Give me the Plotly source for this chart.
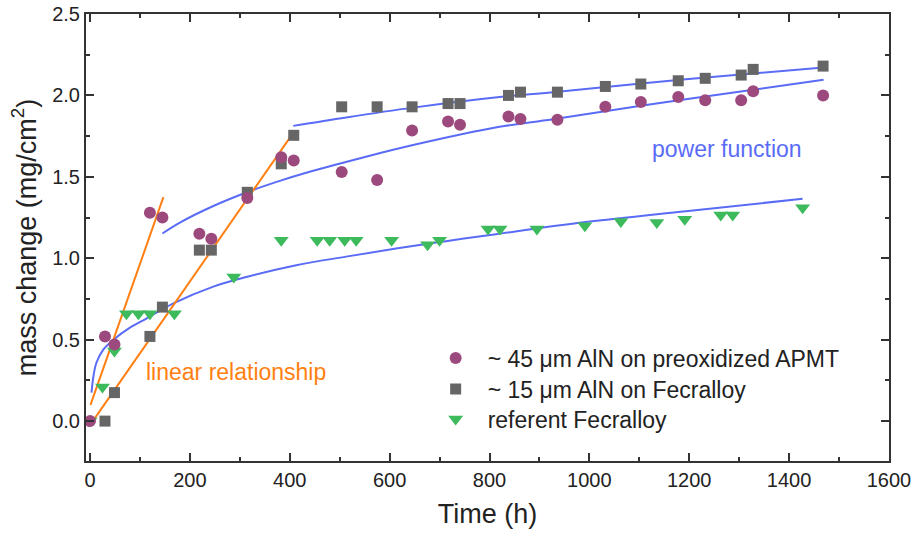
import plotly.graph_objects as go

# ---------------- data ----------------
apmt_t = [0, 30, 49, 120, 145, 219, 243, 315, 383, 408, 504, 575, 645, 717, 741,
          838, 862, 936, 1032, 1103, 1178, 1232, 1304, 1328, 1468]
apmt_m = [0.0, 0.52, 0.47, 1.28, 1.25, 1.15, 1.12, 1.37, 1.62, 1.60, 1.53, 1.48, 1.785, 1.84, 1.82,
          1.87, 1.855, 1.85, 1.93, 1.96, 1.99, 1.97, 1.97, 2.025, 2.00]

fecr_t = [30, 49, 120, 145, 219, 243, 315, 383, 408, 504, 575, 645, 717, 741,
          838, 862, 936, 1032, 1103, 1178, 1232, 1304, 1328, 1468]
fecr_m = [0.0, 0.175, 0.52, 0.70, 1.05, 1.05, 1.405, 1.58, 1.755, 1.93, 1.93, 1.93, 1.95, 1.95,
          2.00, 2.02, 2.02, 2.055, 2.07, 2.09, 2.105, 2.125, 2.16, 2.18]

ref_t = [0, 25, 49, 73, 97, 120, 169, 288, 383, 455, 480, 510, 533, 604, 676, 700,
         797, 821, 895, 991, 1063, 1135, 1191, 1263, 1287, 1427]
ref_m = [0.0, 0.21, 0.43, 0.66, 0.66, 0.66, 0.66, 0.885, 1.11, 1.11, 1.11, 1.11, 1.11, 1.11, 1.083, 1.11,
         1.18, 1.18, 1.18, 1.20, 1.225, 1.22, 1.24, 1.265, 1.265, 1.31]

# power-function fits
fit_ref_t = [3, 7, 13, 27, 47, 80, 113, 167, 247, 313, 413, 513, 613, 713, 813, 993, 1193, 1427]
fit_ref_m = [0.175, 0.277, 0.36, 0.44, 0.50, 0.574, 0.63, 0.723, 0.826, 0.885, 0.957, 1.01, 1.06,
             1.105, 1.148, 1.222, 1.289, 1.365]

fit_apmt_t = [145, 180, 247, 313, 380, 447, 547, 647, 820, 927, 1193, 1469]
fit_apmt_m = [1.152, 1.219, 1.321, 1.404, 1.475, 1.537, 1.619, 1.695, 1.807, 1.854, 1.977, 2.096]

fit_fecr_t = [407, 513, 647, 820, 927, 1193, 1469]
fit_fecr_m = [1.813, 1.865, 1.925, 1.99, 2.02, 2.10, 2.172]

# linear fits
lin1_t = [1, 147]
lin1_m = [0.10, 1.375]
lin2_t = [0, 408]
lin2_m = [-0.025, 1.775]

x_ticks = [0, 200, 400, 600, 800, 1000, 1200, 1400, 1600]
y_ticks = [0.0, 0.5, 1.0, 1.5, 2.0, 2.5]

# ---------------- styles ----------------
PURPLE = "#9C4A7E"
GRAY = "#666666"
GREEN = "#3DBA5C"
BLUE = "#5A6CF6"
ORANGE = "#FF7F12"
FONT = "Liberation Sans, Arial, sans-serif"

fig = go.Figure()

for tx, my in [(fit_ref_t, fit_ref_m), (fit_apmt_t, fit_apmt_m), (fit_fecr_t, fit_fecr_m)]:
    fig.add_trace(go.Scatter(x=tx, y=my, mode="lines", line=dict(color=BLUE, width=2, shape="spline"),
                             showlegend=False, hoverinfo="skip"))
for tx, my in [(lin1_t, lin1_m), (lin2_t, lin2_m)]:
    fig.add_trace(go.Scatter(x=tx, y=my, mode="lines", line=dict(color=ORANGE, width=2),
                             showlegend=False, hoverinfo="skip"))

fig.add_trace(go.Scatter(x=ref_t, y=ref_m, mode="markers", name="referent Fecralloy",
                         marker=dict(symbol="triangle-down", size=13, color=GREEN), legend="legend3"))
fig.add_trace(go.Scatter(x=fecr_t, y=fecr_m, mode="markers", name="~ 15 μm AlN on Fecralloy",
                         marker=dict(symbol="square", size=11, color=GRAY), legend="legend2"))
fig.add_trace(go.Scatter(x=apmt_t, y=apmt_m, mode="markers", name="~ 45 μm AlN on preoxidized APMT",
                         marker=dict(symbol="circle", size=12, color=PURPLE), legend="legend"))

fig.add_annotation(x=293, y=0.30, text="linear relationship", showarrow=False,
                   font=dict(family=FONT, size=23, color=ORANGE))
fig.add_annotation(x=1275, y=1.67, text="power function", showarrow=False,
                   font=dict(family=FONT, size=23, color=BLUE))

axis_common = dict(showline=True, linecolor="#333333", linewidth=2, mirror="ticks",
                   ticks="inside", ticklen=8, tickwidth=1.5, tickcolor="#333333",
                   showgrid=False, zeroline=False, automargin=False,
                   tickfont=dict(family=FONT, size=20, color="#222222"))

fig.update_xaxes(range=[-8, 1600], tickvals=x_ticks, ticktext=[str(v) for v in x_ticks],
                 minor=dict(dtick=100, ticks="inside", ticklen=4, tickcolor="#333333", tickwidth=1.5),
                 title=dict(text="Time (h)", font=dict(family=FONT, size=27, color="#222222"), standoff=14),
                 **axis_common)
fig.update_yaxes(range=[-0.245, 2.5], tickvals=y_ticks, ticktext=["%.1f" % v for v in y_ticks],
                 minor=dict(dtick=0.25, ticks="inside", ticklen=4, tickcolor="#333333", tickwidth=1.5),
                 title=dict(text="mass change (mg/cm<sup>2</sup>)",
                            font=dict(family=FONT, size=27, color="#222222"), standoff=8),
                 **axis_common)

legend_common = dict(x=0.4205, xanchor="left", yanchor="middle", itemwidth=54,
                     font=dict(family=FONT, size=23, color="#222222"),
                     bgcolor="rgba(0,0,0,0)")

fig.update_layout(
    width=916, height=540,
    margin=dict(l=86, r=27, t=14, b=79, autoexpand=False),
    paper_bgcolor="white", plot_bgcolor="white",
    legend=dict(y=0.2304, **legend_common),
    legend2=dict(y=0.1611, **legend_common),
    legend3=dict(y=0.0940, **legend_common),
)

fig.write_html("out.html", config={"displayModeBar": False},
               post_script="document.body.style.margin='0';")
